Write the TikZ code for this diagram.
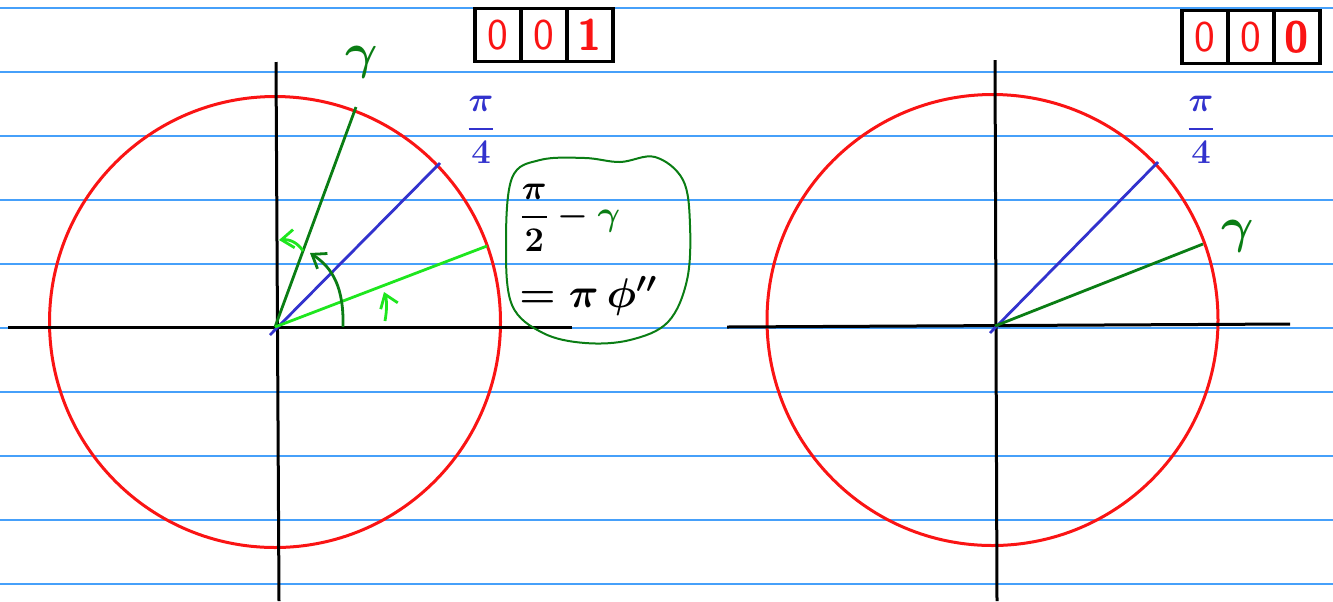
\documentclass[tikz,border=0pt]{standalone}
\usepackage{amsmath}
\usepackage{xcolor}
\usepackage{tikz}
\usetikzlibrary{arrows.meta,positioning,calc}
\definecolor{cRule} {RGB}{70,160,250}
\definecolor{cRed}  {RGB}{250,20,20}
\definecolor{cBlue} {RGB}{50,50,205}
\definecolor{cDkGr} {RGB}{10,125,20}
\definecolor{cLtGr} {RGB}{30,230,30}
\tikzset{
  >={Straight Barb[length=2.2mm,width=3.2mm]},
  ruling/.style={cRule,line width=0.6pt},
  axis/.style={black,line width=1.5pt},
  unit/.style={cRed,line width=1.5pt},
  ray/.style={line width=1.4pt},
  bit/.style={draw,line width=1.6pt,minimum width=23pt,minimum height=26.5pt,
              inner sep=0pt,outer sep=0pt,text=cRed,font=\fontsize{22}{22}\selectfont\sffamily},
  lab/.style={inner sep=0pt,font=\fontsize{19}{22}\selectfont\boldmath},
  bigg/.style={inner sep=0pt,font=\fontsize{30}{30}\selectfont\boldmath,text=cDkGr},
  blob/.style={cDkGr,line width=1pt},
}
\begin{document}
\begin{tikzpicture}[x=0.5pt,y=-0.5pt]
  \useasboundingbox (0,0) rectangle (1333,601);
  % ruled paper
  \foreach \yy in {8,72,136,200,264,328,392,456,520,584}
    \draw[ruling] (0,\yy) -- (1333,\yy);

  % ---------- left diagram ----------
  \coordinate (O1) at (275,327);
  \draw[unit] (275,322) circle[radius=225.5];
  \coordinate (xl1) at (8,327);  \coordinate (xr1) at (572,327);
  \coordinate (yt1) at (276,62); \coordinate (yb1) at (279,601);
  \draw[axis] (xl1) -- (xr1);
  \draw[axis] (yt1) -- (yb1);
  \coordinate (g1)  at (356,107);   % gamma ray end
  \coordinate (p1a) at (270,335);   % pi/4 ray
  \coordinate (p1b) at (440,163);
  \coordinate (h1)  at (487,246);   % light ray end
  \draw[ray,cBlue] (p1a) -- (p1b);
  \draw[ray,cDkGr] (O1) -- (g1);
  \draw[ray,cLtGr] (O1) -- (h1);
  % angle arrows
  \coordinate (aA) at (343,327); \coordinate (aB) at (310,253);
  \draw[ray,cDkGr,->] (aA) .. controls (344,288) and (333,268) .. (aB);
  \coordinate (bA) at (385,321); \coordinate (bB) at (384,292);
  \draw[ray,cLtGr,->] (bA) .. controls (387,310) and (387,300) .. (bB);
  \coordinate (cA) at (303,251); \coordinate (cB) at (279,240);
  \draw[ray,cLtGr,->] (cA) .. controls (298,243) and (290,239) .. (cB);
  \node[bigg]   (gam1) at (362,62)  {$\gamma$};
  \node[lab,text=cBlue] (pq1) at (481,130) {$\displaystyle\frac{\pi}{4}$};
  % note bubble
  \draw[blob] plot[smooth cycle,tension=0.6] coordinates {(512,178) (540,160) (585,158) (620,162) (655,157) (683,180)
     (690,225) (687,280) (668,322) (630,340) (585,343) (543,333) (512,305) (506,245)};
  \node[lab,anchor=west] (frac) at (519,218) {$\displaystyle\frac{\pi}{2}-{\color{cDkGr}\gamma}$};
  \node[lab,anchor=west,font=\fontsize{21}{24}\selectfont\boldmath] (eqn) at (519,296) {$=\pi\,\phi''$};
  % bits
  \node[bit] (b11) at (498,35) {0};
  \node[bit,right=0pt of b11] (b12) {0};
  \node[bit,right=0pt of b12] (b13) {\bfseries 1};

  % ---------- right diagram ----------
  \coordinate (O2) at (995,326);
  \draw[unit] (992.5,320) circle[radius=225.5];
  \coordinate (xl2) at (727,327);  \coordinate (xr2) at (1290,324);
  \coordinate (yt2) at (995,60);   \coordinate (yb2) at (997,601);
  \draw[axis] (xl2) -- (xr2);
  \draw[axis] (yt2) -- (yb2);
  \coordinate (p2a) at (990,333); \coordinate (p2b) at (1158,162);
  \coordinate (g2)  at (1203,244);
  \draw[ray,cBlue] (p2a) -- (p2b);
  \draw[ray,cDkGr] (O2) -- (g2);
  \node[lab,text=cBlue] (pq2) at (1201,130) {$\displaystyle\frac{\pi}{4}$};
  \node[bigg] (gam2) at (1238,236) {$\gamma$};
  \node[bit] (b21) at (1205,37) {0};
  \node[bit,right=0pt of b21] (b22) {0};
  \node[bit,right=0pt of b22] (b23) {\bfseries 0};
\end{tikzpicture}
\end{document}
